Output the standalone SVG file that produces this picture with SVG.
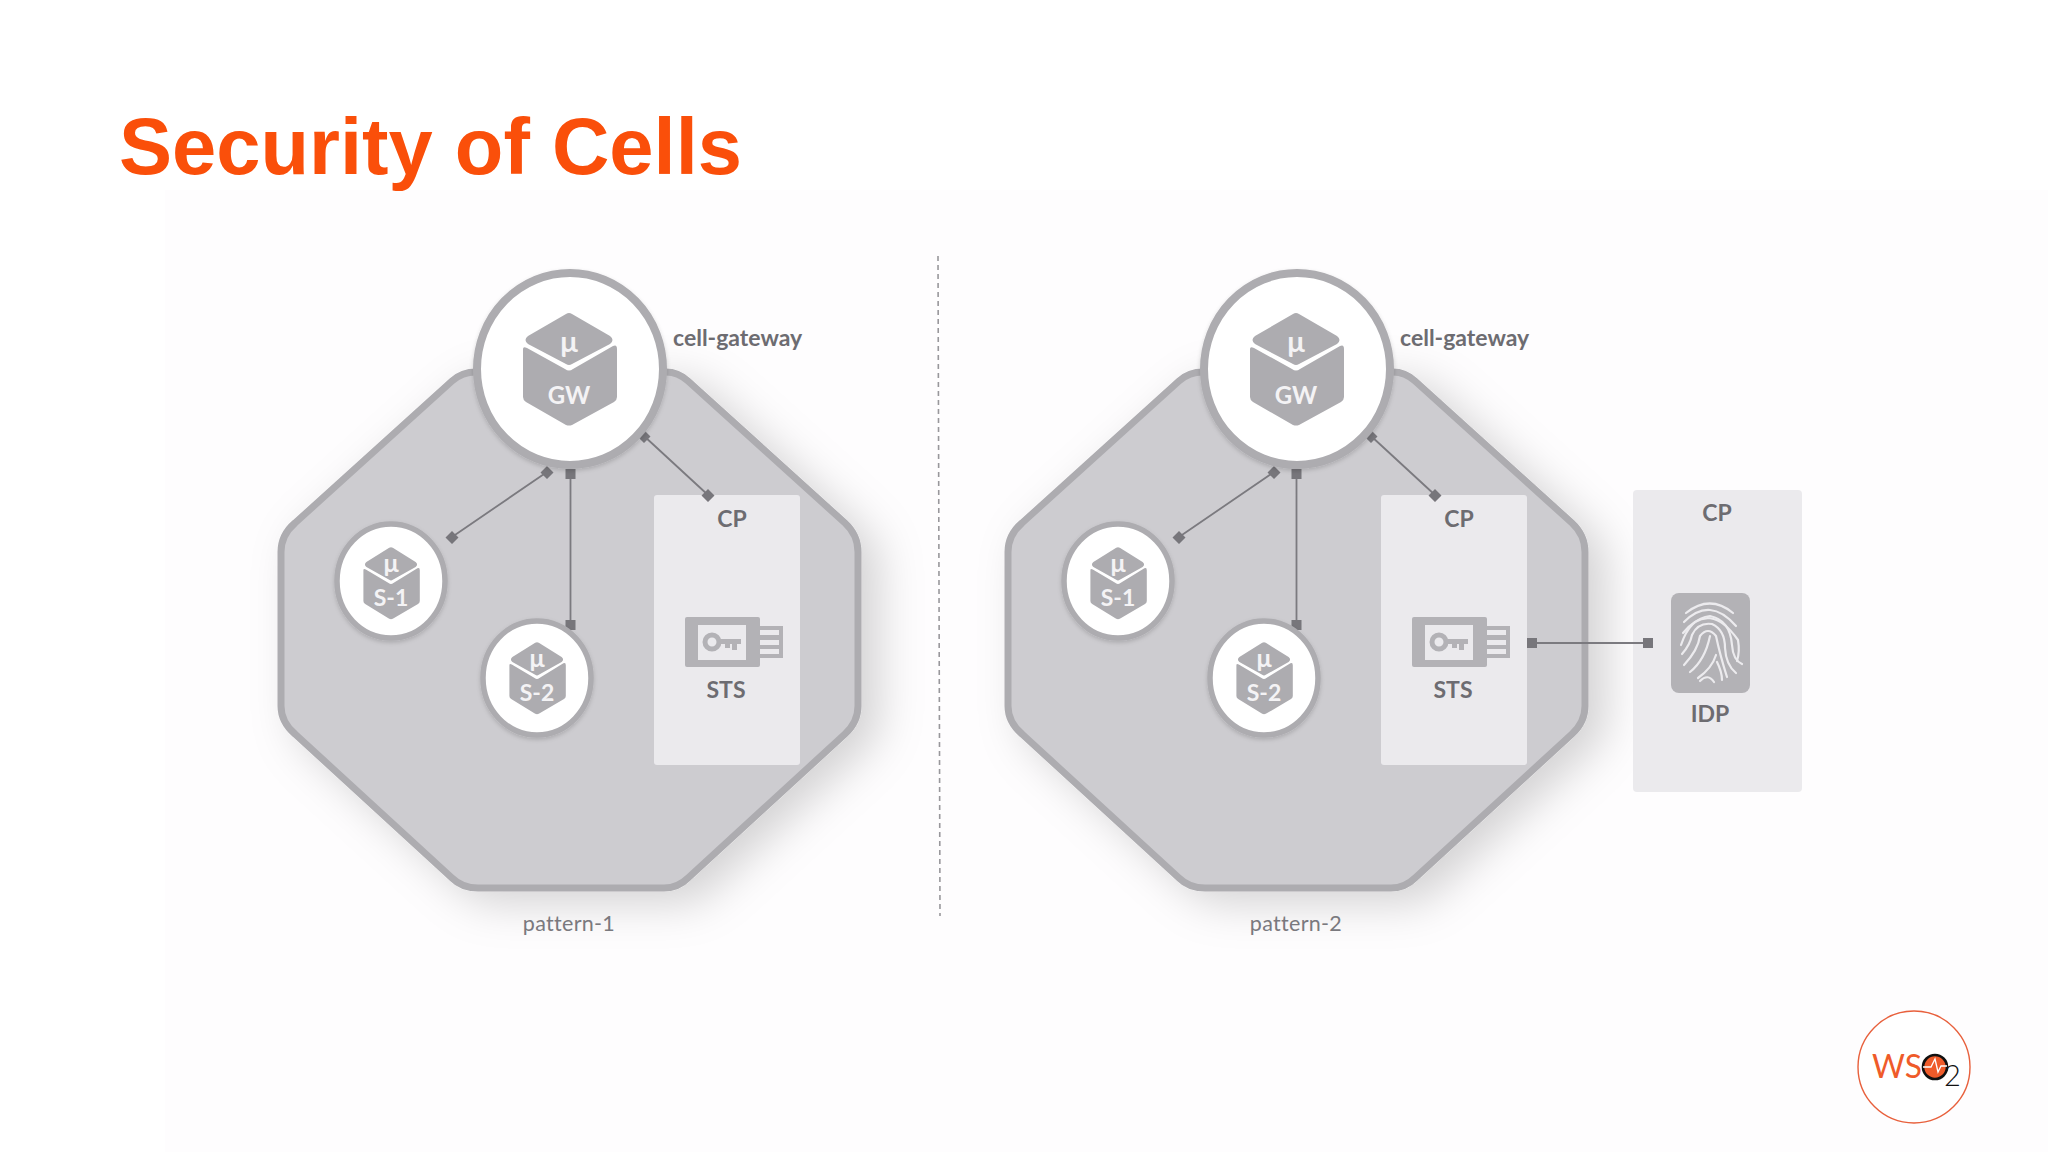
<svg xmlns="http://www.w3.org/2000/svg" width="2048" height="1152" viewBox="0 0 2048 1152">
<style>
text{font-family:"Lato","Open Sans","Liberation Sans",sans-serif}
.lbl{font-weight:700;font-size:23px;fill:#6d6c71}
.cap{font-size:21.5px;fill:#7a797e;text-anchor:middle;letter-spacing:.3px}
.cen{text-anchor:middle}
.w{fill:#f4f3f5;font-weight:700;text-anchor:middle}
.oct{fill:#cdccd0;stroke:#adacb0;stroke-width:7;stroke-linejoin:round}
.ring{fill:#fff;stroke:#adacb0}
.box{fill:#ebeaed}
.cube{fill:#adacb0}
.ln{stroke:#7b7a7f;stroke-width:1.8;fill:none}
.end{fill:#77767b}
.fp{fill:none;stroke:#ecebee;stroke-width:2.2;stroke-linecap:round}
</style>
<defs>
<filter id="sh" x="-20%" y="-20%" width="150%" height="150%"><feDropShadow dx="18" dy="12" stdDeviation="22" flood-color="#000" flood-opacity=".17"/></filter>
<filter id="sh2" x="-30%" y="-30%" width="160%" height="160%"><feDropShadow dx="0" dy="2" stdDeviation="2" flood-color="#000" flood-opacity=".16"/></filter>
<path id="octagon" d="M476 372H666Q678 372 688 381L845 523Q858 535 858 552V706Q858 722 845 734L688 878Q678 888 664 888H478Q462 888 452 878L295 734Q281 722 281 706V552Q281 535 295 523L452 381Q462 372 476 372Z"/>
<g id="cubeIcon">
<path class="cube" d="M-3 -55Q0 -57 3 -55L41 -33Q46 -29 41 -25L3 -5Q0 -3 -3 -5L-41 -25Q-46 -29 -41 -33Z"/>
<path class="cube" d="M-46 -20Q-46 -23 -42 -21L-4 0Q0 3 4 0L44 -23Q48 -25 48 -20V28Q48 31 45 33L3 56Q0 57 -3 56L-43 33Q-46 31 -46 28Z"/>
</g>
<g id="stsIcon">
<rect x="0" y="0" width="75" height="50" rx="2" fill="#b3b2b6"/>
<rect x="13" y="8" width="48" height="35" fill="#ebeaed"/>
<circle cx="27" cy="25" r="7" fill="none" stroke="#b3b2b6" stroke-width="5"/>
<path d="M33 22H56V27H52V33H47V27H45V31H40V27H33Z" fill="#b3b2b6"/>
<path d="M75 9H98V41H75V37H94V32H75V28H94V23H75V18H94V13H75Z" fill="#b3b2b6"/>
</g>
</defs>

<rect width="2048" height="1152" fill="#ffffff"/>
<rect x="165" y="190" width="1883" height="962" fill="#fefdfe"/>

<text id="title" x="119" y="174" font-size="79.500" font-weight="700" fill="#fa4f0a" style="font-family:'Liberation Sans',Arial,sans-serif">Security of Cells</text>
<line id="divider" x1="938" y1="256" x2="940" y2="916" stroke="#98979b" stroke-width="1.6" stroke-dasharray="5 4"/>

<g id="cell-pattern-1"><use href="#octagon" class="oct" filter="url(#sh)"/></g>
<g id="cell-pattern-2" transform="translate(727 0)"><use href="#octagon" class="oct" filter="url(#sh)"/></g>

<g id="cp-1"><rect class="box" x="654" y="495" width="146" height="270" rx="3"/><text class="lbl cen" x="732" y="527">CP</text></g>
<g id="cp-2"><rect class="box" x="1381" y="495" width="146" height="270" rx="3"/><text class="lbl cen" x="1459" y="527">CP</text></g>
<g id="cp-3"><rect class="box" x="1633" y="490" width="169" height="302" rx="4"/><text class="lbl cen" x="1717" y="521">CP</text></g>

<g id="connectors">
<g id="conn-1">
<path class="ln" d="M547 472L452 537M570.500 474V625M644 436L708 495"/>
<path class="end" d="M547 466l6.500 6.500-6.500 6.500-6.500-6.500zM452 531l6.500 6.500-6.500 6.500-6.500-6.500zM644 430l6.500 6.500-6.500 6.500-6.500-6.500zM708 489l6.500 6.500-6.500 6.500-6.500-6.500z"/>
<rect class="end" x="565.500" y="469" width="10" height="10"/><rect class="end" x="565.500" y="620" width="10" height="10"/>
</g>
<g id="conn-2" transform="translate(727 0)">
<path class="ln" d="M547 472L452 537M569.500 474V625M644 436L708 495"/>
<path class="end" d="M547 466l6.500 6.500-6.500 6.500-6.500-6.500zM452 531l6.500 6.500-6.500 6.500-6.500-6.500zM644 430l6.500 6.500-6.500 6.500-6.500-6.500zM708 489l6.500 6.500-6.500 6.500-6.500-6.500z"/>
<rect class="end" x="564.500" y="469" width="10" height="10"/><rect class="end" x="564.500" y="620" width="10" height="10"/>
</g>
<g id="conn-idp">
<path class="ln" d="M1532 643H1648"/>
<rect class="end" x="1527" y="638" width="10" height="10"/><rect class="end" x="1643" y="638" width="10" height="10"/>
</g>
</g>

<g id="gw-1">
<ellipse class="ring" cx="570" cy="369" rx="93" ry="96" stroke-width="8" filter="url(#sh2)"/>
<use href="#cubeIcon" transform="translate(569 369)"/>
<text class="w" x="569" y="352" font-size="29">μ</text><text class="w" x="569" y="404" font-size="24">GW</text>
<text class="lbl" x="673" y="346">cell-gateway</text>
</g>
<g id="gw-2">
<ellipse class="ring" cx="1297" cy="369" rx="93" ry="96" stroke-width="8" filter="url(#sh2)"/>
<use href="#cubeIcon" transform="translate(1296 369)"/>
<text class="w" x="1296" y="352" font-size="29">μ</text><text class="w" x="1296" y="404" font-size="24">GW</text>
<text class="lbl" x="1400" y="346">cell-gateway</text>
</g>

<g id="s1-1">
<ellipse class="ring" cx="391" cy="581" rx="54" ry="57" stroke-width="5.500" filter="url(#sh2)"/>
<use href="#cubeIcon" transform="translate(391 583) scale(.6 .64)"/>
<text class="w" x="391" y="572" font-size="25">μ</text><text class="w" x="391" y="606" font-size="23">S-1</text>
</g>
<g id="s2-1">
<ellipse class="ring" cx="537" cy="678" rx="54" ry="57" stroke-width="5.500" filter="url(#sh2)"/>
<use href="#cubeIcon" transform="translate(537 678) scale(.6 .64)"/>
<text class="w" x="537" y="667" font-size="25">μ</text><text class="w" x="537" y="701" font-size="23">S-2</text>
</g>
<g id="s1-2">
<ellipse class="ring" cx="1118" cy="581" rx="54" ry="57" stroke-width="5.500" filter="url(#sh2)"/>
<use href="#cubeIcon" transform="translate(1118 583) scale(.6 .64)"/>
<text class="w" x="1118" y="572" font-size="25">μ</text><text class="w" x="1118" y="606" font-size="23">S-1</text>
</g>
<g id="s2-2">
<ellipse class="ring" cx="1264" cy="678" rx="54" ry="57" stroke-width="5.500" filter="url(#sh2)"/>
<use href="#cubeIcon" transform="translate(1264 678) scale(.6 .64)"/>
<text class="w" x="1264" y="667" font-size="25">μ</text><text class="w" x="1264" y="701" font-size="23">S-2</text>
</g>

<g id="sts-1"><use href="#stsIcon" transform="translate(685 617)"/><text class="lbl cen" x="726" y="698">STS</text></g>
<g id="sts-2"><use href="#stsIcon" transform="translate(1412 617)"/><text class="lbl cen" x="1453" y="698">STS</text></g>

<g id="idp">
<rect x="1671" y="593" width="79" height="100" rx="8" fill="#b3b2b6"/>
<g class="fp">
<path d="M1686 613Q1710 594 1733 613"/>
<path d="M1684 622Q1710 596 1736 626"/>
<path d="M1683 633Q1710 600 1738 640Q1740 652 1737 661"/>
<path d="M1681 645Q1690 618 1710 616Q1730 620 1732 645Q1733 660 1742 664"/>
<path d="M1682 654Q1690 645 1692 635Q1698 622 1712 624Q1725 630 1725 648Q1726 665 1736 673"/>
<path d="M1684 665Q1698 650 1700 636Q1708 626 1716 636Q1720 655 1727 677"/>
<path d="M1690 672Q1705 660 1710 636M1698 678Q1712 668 1716 655M1717 662Q1722 672 1722 680"/>
<path d="M1700 681Q1708 673 1714 682"/>
</g>
<text class="lbl cen" x="1710" y="722">IDP</text>
</g>

<text id="pattern-1" class="cap" x="569" y="931">pattern-1</text>
<text id="pattern-2" class="cap" x="1296" y="931">pattern-2</text>

<g id="logo">
<circle cx="1914" cy="1067" r="56" fill="#fff" stroke="#e8603c" stroke-width="1.4"/>
<text x="1872" y="1078" font-size="32" font-weight="400" fill="#ef5b2a" textLength="50" lengthAdjust="spacingAndGlyphs">WS</text>
<circle cx="1935" cy="1067" r="12" fill="#ef5b2a" stroke="#111" stroke-width="2.6"/>
<path d="M1923 1067H1931L1935 1059L1938 1072L1941 1066H1947" fill="none" stroke="#fff" stroke-width="1.3"/>
<text x="1944" y="1086" font-size="29" font-weight="300" fill="#111">2</text>
</g>
</svg>
